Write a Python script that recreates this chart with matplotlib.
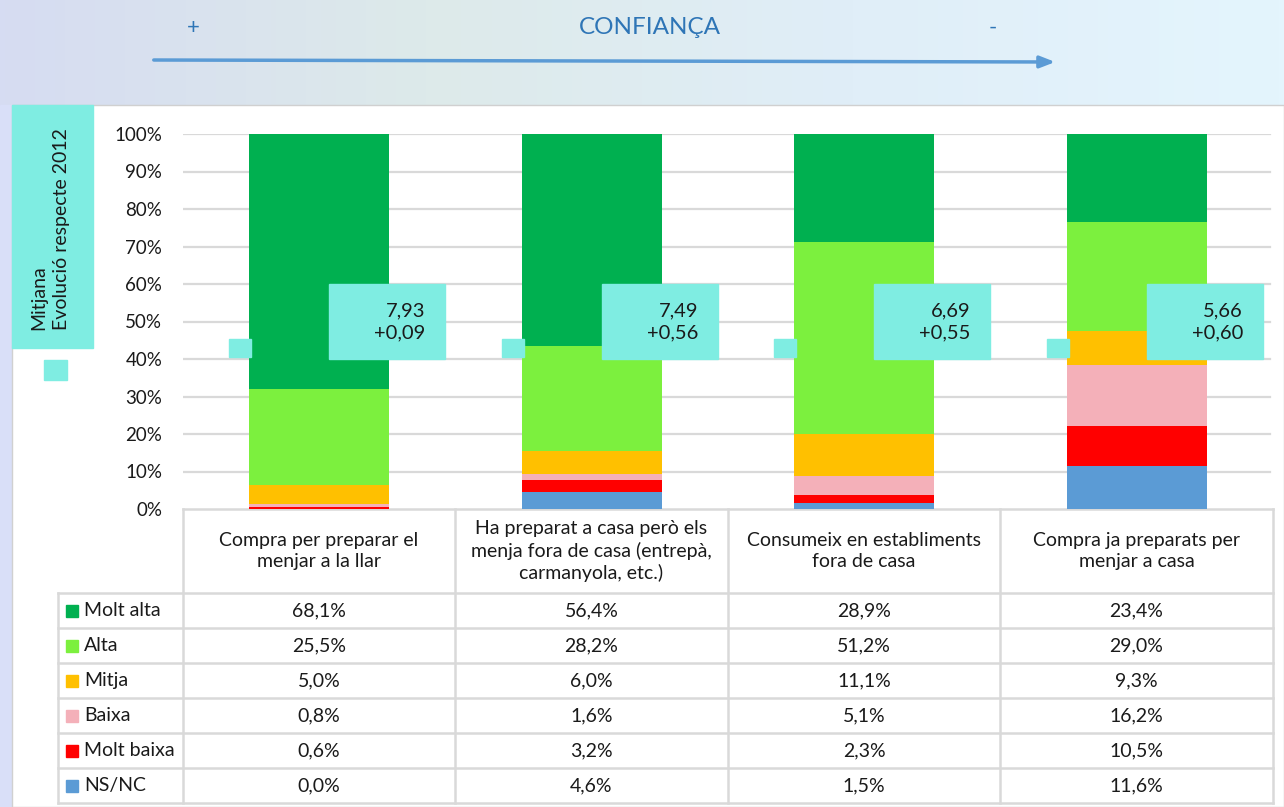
import numpy as np
import matplotlib.pyplot as plt
from matplotlib.patches import Rectangle
from matplotlib.colors import LinearSegmentedColormap

plt.rcParams['font.family'] = ['Lato', 'DejaVu Sans']

W, H = 1284, 807

categories = ["Compra per preparar el\nmenjar a la llar",
              "Ha preparat a casa però els\nmenja fora de casa (entrepà,\ncarmanyola, etc.)",
              "Consumeix en establiments\nfora de casa",
              "Compra ja preparats per\nmenjar a casa"]
levels = ["Molt alta", "Alta", "Mitja", "Baixa", "Molt baixa", "NS/NC"]
molt_alta = [68.1, 56.4, 28.9, 23.4]
alta = [25.5, 28.2, 51.2, 29.0]
mitja = [5.0, 6.0, 11.1, 9.3]
baixa = [0.8, 1.6, 5.1, 16.2]
molt_baixa = [0.6, 3.2, 2.3, 10.5]
ns_nc = [0.0, 4.6, 1.5, 11.6]
mitjana = [7.93, 7.49, 6.69, 5.66]
evolucio = [0.09, 0.56, 0.55, 0.60]

colors = ["#00B050", "#7CF03E", "#FFC000", "#F4B0B9", "#FF0000", "#5B9BD5"]
cyan = "#7FEDE2"
grid_c = "#D9D9D9"
txt = "#1A1A1A"
series = [molt_alta, alta, mitja, baixa, molt_baixa, ns_nc]

fig = plt.figure(figsize=(W / 100, H / 100), dpi=100)

# background gradient
bg = fig.add_axes([0, 0, 1, 1], zorder=0)
cmap = LinearSegmentedColormap.from_list("bg", ["#D6DCF2", "#DDEAEA", "#E0EEF8", "#E4F5FD"])
bg.imshow(np.linspace(0, 1, 256)[None, :], aspect="auto", cmap=cmap, extent=[0, W, H, 0])
bg.set_xlim(0, W)
bg.set_ylim(H, 0)
bg.axis("off")
bg.add_patch(Rectangle((0, 105), 12, H - 105, color="#D9DFF8"))
bg.add_patch(Rectangle((12, 105), W - 12, H - 105, facecolor="white", edgecolor="#D0D0D0", lw=1))

# header
bg.text(193, 28, "+", color="#2E75B6", fontsize=16, ha="center", va="center")
bg.text(650, 28, "CONFIANÇA", color="#2E75B6", fontsize=17.5, ha="center", va="center")
bg.text(993, 28, "-", color="#2E75B6", fontsize=16, ha="center", va="center")
bg.annotate("", xy=(1058, 62), xytext=(151, 60),
            arrowprops=dict(arrowstyle="-|>,head_length=0.9,head_width=0.35", color="#5B9BD5", lw=2.5))

# left cyan legend box
bg.add_patch(Rectangle((12, 105), 81, 243, color=cyan))
bg.text(50, 330, "Mitjana\nEvolució respecte 2012", rotation=90, ha="center", va="bottom",
        multialignment="left", fontsize=14, color=txt, linespacing=1.4)
bg.add_patch(Rectangle((44, 360), 23, 20, color=cyan))

# chart
ax = fig.add_axes([183 / W, (H - 509) / H, (1273 - 183) / W, 375 / H], zorder=2)
ax.patch.set_alpha(0)
x = np.arange(len(categories))
bottom = np.zeros(len(categories))
for vals, c in list(zip(series, colors))[::-1]:
    ax.bar(x, vals, width=0.515, bottom=bottom, color=c, zorder=2)
    bottom += np.array(vals)
ax.set_xlim(-0.5, 3.5)
ax.set_ylim(0, 100)
ax.set_yticks(np.arange(0, 101, 10))
ax.set_yticklabels([f"{v}%" for v in range(0, 101, 10)], fontsize=13.5, color=txt)
ax.tick_params(axis="y", length=0, pad=15)
ax.set_xticks([])
for s in ax.spines.values():
    s.set_visible(False)
for v in range(10, 101, 10):
    ax.axhline(v, xmin=0, xmax=0.997, color=grid_c, lw=1.6, zorder=1)

for i in x:
    ax.add_patch(Rectangle((i + 0.037, 40), 0.426, 20, color=cyan, zorder=3, clip_on=False))
    ax.text(i + 0.39, 50, f"{mitjana[i]:.2f}\n{evolucio[i]:+.2f}".replace(".", ","),
            ha="right", va="center", fontsize=14.5, color=txt, linespacing=1.35, zorder=4)
    ax.add_patch(Rectangle((i - 0.33, 40.5), 0.08, 4.8, color=cyan, zorder=3, clip_on=False))

# data table
tb = fig.add_axes([0, 0, 1, 1], zorder=1)
tb.set_xlim(0, W)
tb.set_ylim(H, 0)
tb.axis("off")
col_edges = [183, 455, 728, 1000, 1273]
row_edges = [593 + 35 * k for k in range(7)]
lc = dict(color=grid_c, lw=1.8)
tb.plot([183, 1273], [509, 509], **lc)
for xe in col_edges:
    tb.plot([xe, xe], [509, 803], **lc)
tb.plot([58, 58], [593, 803], **lc)
for ye in row_edges:
    tb.plot([58, 1273], [ye, ye], **lc)
for j, cat in enumerate(categories):
    cx = (col_edges[j] + col_edges[j + 1]) / 2
    tb.text(cx, 551, cat, ha="center", va="center", fontsize=14, color=txt, linespacing=1.3)
for r, (lev, vals, c) in enumerate(zip(levels, series, colors)):
    cy = (row_edges[r] + row_edges[r + 1]) / 2
    tb.add_patch(Rectangle((66, cy - 6), 12, 12, color=c))
    tb.text(84, cy, lev, ha="left", va="center", fontsize=14, color=txt)
    for j, v in enumerate(vals):
        cx = (col_edges[j] + col_edges[j + 1]) / 2
        tb.text(cx, cy, f"{v:.1f}%".replace(".", ","), ha="center", va="center",
                fontsize=14, color=txt)

fig.savefig("out.png", dpi=100)
